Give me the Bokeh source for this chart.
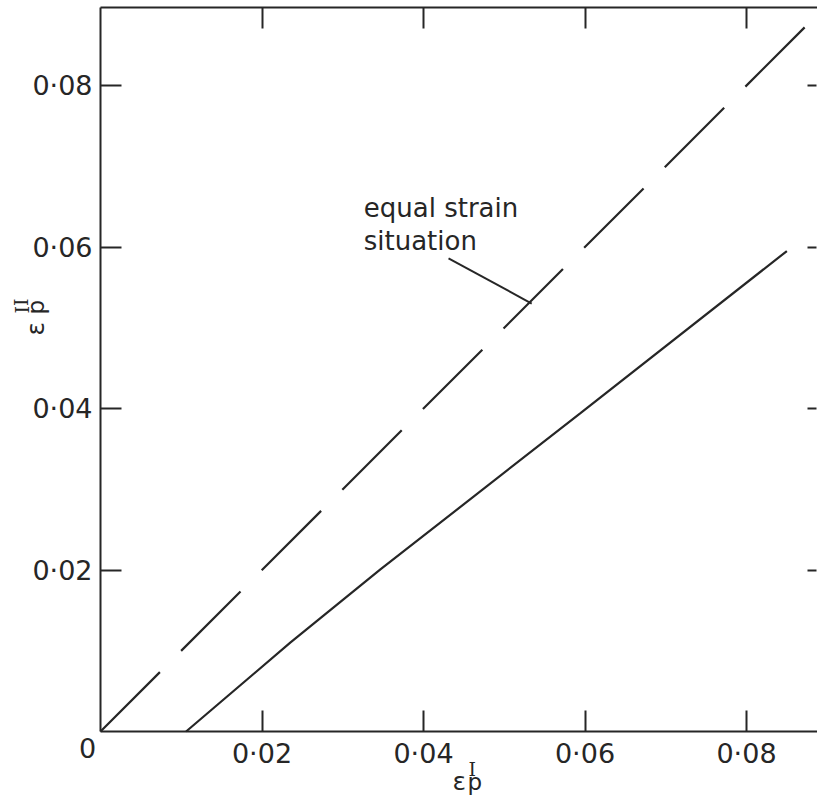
from bokeh.plotting import figure
from bokeh.models import LinearAxis, FixedTicker, CustomJSTickFormatter, Label
from bokeh.embed import file_html
from bokeh.resources import INLINE

# ---- data ----
tick_values = [0.02, 0.04, 0.06, 0.08]
axis_max = 0.0897

equal_x = [0.0, 0.0872]
equal_y = [0.0, 0.0872]

solid_x = [0.0106, 0.0235, 0.0347, 0.0594, 0.0850]
solid_y = [0.0, 0.0110, 0.0201, 0.0394, 0.0595]

leader_x = [0.0431, 0.0534]
leader_y = [0.0586, 0.0530]

note_lines = ["equal strain", "situation"]
note_x = 0.0326
note_y = [0.0648, 0.0608]

INK = "#262626"
FONT = "DejaVu Sans"
PX = 1.0 / 8075.0  # data units per pixel

W, H = 817, 802
left_px, bottom_px = 100, 71

p = figure(width=W, height=H,
           x_range=(-left_px * PX, (W - left_px) * PX),
           y_range=(-bottom_px * PX, (H - bottom_px) * PX),
           output_backend="svg", toolbar_location=None,
           min_border=0, min_border_left=0, min_border_right=0,
           min_border_top=0, min_border_bottom=0)
p.grid.visible = False
p.outline_line_color = None
p.background_fill_color = "white"
p.border_fill_color = "white"

fmt = CustomJSTickFormatter(code="return tick.toFixed(2).replace('.', '\u00b7');")
blank = CustomJSTickFormatter(code="return '';")

def style(ax, tick_in, show_line=True):
    ax.ticker = FixedTicker(ticks=tick_values)
    ax.major_tick_in = tick_in
    ax.major_tick_out = 0
    ax.minor_tick_line_color = None
    ax.axis_line_width = 2
    ax.axis_line_color = INK if show_line else None
    ax.major_tick_line_width = 2
    ax.major_tick_line_color = INK
    ax.major_label_text_font = FONT
    ax.major_label_text_font_size = "27px"
    ax.major_label_text_color = INK

xa = p.xaxis[0]
ya = p.yaxis[0]
style(xa, 21)
style(ya, 21)
xa.formatter = fmt
ya.formatter = fmt
xa.fixed_location = 0
ya.fixed_location = 0
xa.bounds = (0, 1)
ya.bounds = (0, axis_max)
xa.major_label_standoff = 6
ya.major_label_standoff = 8

top = LinearAxis(formatter=blank, fixed_location=axis_max, bounds=(0, 1))
style(top, 21)
p.add_layout(top, "above")
right = LinearAxis(formatter=blank, fixed_location=(W - left_px - 1) * PX, bounds=(0, axis_max))
style(right, 9, show_line=False)
p.add_layout(right, "right")

p.line(equal_x, equal_y, line_color=INK, line_width=2.2, line_dash="84 30")
p.line(solid_x, solid_y, line_color=INK, line_width=2.2)
p.line(leader_x, leader_y, line_color=INK, line_width=2)

def lab(**kw):
    kw.setdefault("text_color", INK)
    kw.setdefault("text_baseline", "alphabetic")
    kw.setdefault("text_font", FONT)
    p.add_layout(Label(**kw))

for t, yy in zip(note_lines, note_y):
    lab(x=note_x, y=yy, text=t, text_font_size="26px")

# origin label
lab(x=-13 * PX, y=-6 * PX, text="0", text_font_size="27px",
    text_align="center", text_baseline="top")

# x axis label  eps_p^I
lab(x=352 * PX, y=-50 * PX, text="\u03b5", text_font_size="25px")
lab(x=367 * PX, y=-50 * PX, text="p", text_font_size="23px")
lab(x=368 * PX, y=-37 * PX, text="I", text_font="DejaVu Serif", text_font_size="19px")

# y axis label  eps_p^II (rotated)
lab(x=-65 * PX, y=396 * PX, text="\u03b5", text_font_size="25px", angle=1.5708)
lab(x=-65 * PX, y=417 * PX, text="p", text_font_size="23px", angle=1.5708)
lab(x=-79 * PX, y=418 * PX, text="II", text_font="DejaVu Serif", text_font_size="19px", angle=1.5708)

open("out.html", "w").write(file_html(p, INLINE))
